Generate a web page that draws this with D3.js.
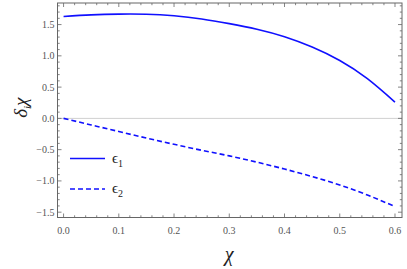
<!DOCTYPE html>
<html>
<head>
<meta charset="utf-8">
<script src="https://cdn.jsdelivr.net/npm/d3@7"></script>
<style>
  html, body { margin: 0; padding: 0; background: #fff; }
  svg { display: block; }
  text { font-family: 'Liberation Serif', 'Times New Roman', 'DejaVu Serif', Times, serif; }
  .tick-label { font-size: 10px; fill: #555; }
</style>
</head>
<body>
<svg width="407" height="269"></svg>
<script>
// data
var chi = [0, 0.05, 0.1, 0.15, 0.2, 0.25, 0.3, 0.35, 0.4, 0.45, 0.5, 0.55, 0.6];
var eps1 = [1.63, 1.655, 1.667, 1.665, 1.64, 1.59, 1.515, 1.425, 1.305, 1.14, 0.925, 0.635, 0.26];
var eps2 = [0, -0.105, -0.21, -0.315, -0.415, -0.51, -0.6, -0.7, -0.81, -0.93, -1.065, -1.225, -1.41];
var xTicks = [0, 0.1, 0.2, 0.3, 0.4, 0.5, 0.6];
var yTicks = [-1.5, -1.0, -0.5, 0, 0.5, 1.0, 1.5];
var legendLabels = ["\u03f5", "\u03f5"];
var legendSubs = ["1", "2"];

var svg = d3.select("svg"),
    plotLeft = 57.5, plotRight = 402, plotTop = 3, plotBottom = 217.5;

var x = d3.scaleLinear().domain([-0.011, 0.6127]).range([plotLeft, plotRight]);
var y = d3.scaleLinear().domain([-1.585, 1.845]).range([plotBottom, plotTop]);

var frameColor = "#666";

// zero line
svg.append("line")
    .attr("x1", plotLeft).attr("x2", plotRight)
    .attr("y1", y(0)).attr("y2", y(0))
    .attr("stroke", "#d0d0d0").attr("stroke-width", 1);

var minorX = d3.range(0, 0.6001, 0.02),
    minorY = d3.range(-1.5, 1.801, 0.1);

function isMajor(v, step) { return Math.abs(v / step - Math.round(v / step)) < 1e-6; }

var g = svg.append("g").attr("stroke", frameColor).attr("stroke-width", 0.8);

// ticks on all four sides
minorX.forEach(function(v) {
  var len = isMajor(v, 0.1) ? 4 : 2.2;
  g.append("line").attr("x1", x(v)).attr("x2", x(v)).attr("y1", plotBottom).attr("y2", plotBottom - len);
  g.append("line").attr("x1", x(v)).attr("x2", x(v)).attr("y1", plotTop).attr("y2", plotTop + len);
});
minorY.forEach(function(v) {
  var len = isMajor(v, 0.5) ? 4 : 2.2;
  g.append("line").attr("y1", y(v)).attr("y2", y(v)).attr("x1", plotLeft).attr("x2", plotLeft + len);
  g.append("line").attr("y1", y(v)).attr("y2", y(v)).attr("x1", plotRight).attr("x2", plotRight - len);
});

// frame
svg.append("rect")
    .attr("x", plotLeft).attr("y", plotTop)
    .attr("width", plotRight - plotLeft).attr("height", plotBottom - plotTop)
    .attr("fill", "none").attr("stroke", frameColor).attr("stroke-width", 1);

// tick labels
svg.selectAll(".xl").data(xTicks).enter().append("text")
    .attr("class", "tick-label")
    .attr("x", function(d) { return x(d); })
    .attr("y", plotBottom + 16)
    .attr("text-anchor", "middle")
    .text(function(d) { return d.toFixed(1); });

svg.selectAll(".yl").data(yTicks).enter().append("text")
    .attr("class", "tick-label")
    .attr("x", plotLeft - 3)
    .attr("y", function(d) { return y(d) + 3.5; })
    .attr("text-anchor", "end")
    .text(function(d) { return (d < 0 ? "\u2212" + Math.abs(d).toFixed(1) : d.toFixed(1)); });

// curves
var line = d3.line()
    .x(function(d) { return x(d[0]); })
    .y(function(d) { return y(d[1]); })
    .curve(d3.curveNatural);

svg.append("path")
    .datum(d3.zip(chi, eps1))
    .attr("d", line)
    .attr("fill", "none").attr("stroke", "#1010ff").attr("stroke-width", 1.6);

svg.append("path")
    .datum(d3.zip(chi, eps2))
    .attr("d", line)
    .attr("fill", "none").attr("stroke", "#1010ff").attr("stroke-width", 1.6)
    .attr("stroke-dasharray", "5,3");

// legend
var legY = [158.5, 189];
legY.forEach(function(ly, i) {
  svg.append("line")
      .attr("x1", 70).attr("x2", 105).attr("y1", ly).attr("y2", ly)
      .attr("stroke", "#1010ff").attr("stroke-width", 1.6)
      .attr("stroke-dasharray", i === 1 ? "5,3" : null);
  var t = svg.append("text")
      .attr("x", 112).attr("y", ly + 4)
      .attr("font-size", 15).attr("fill", "#222");
  t.append("tspan").text(legendLabels[i]);
  t.append("tspan").attr("dy", 4).attr("font-size", 10).text(legendSubs[i]);
});

// axis titles
svg.append("text")
    .attr("x", x(0.3)).attr("y", 261)
    .attr("text-anchor", "middle")
    .attr("font-style", "italic")
    .attr("font-size", 20).attr("fill", "#222")
    .text("\u03c7");

var yl = svg.append("text")
    .attr("transform", "translate(27," + y(0.17) + ") rotate(-90)")
    .attr("text-anchor", "middle")
    .attr("font-style", "italic")
    .attr("font-size", 19).attr("fill", "#222");
yl.append("tspan").text("\u03b4");
yl.append("tspan").attr("dy", 4).attr("font-size", 11).text("i");
yl.append("tspan").attr("dy", -4).text("\u03c7");
</script>
</body>
</html>
